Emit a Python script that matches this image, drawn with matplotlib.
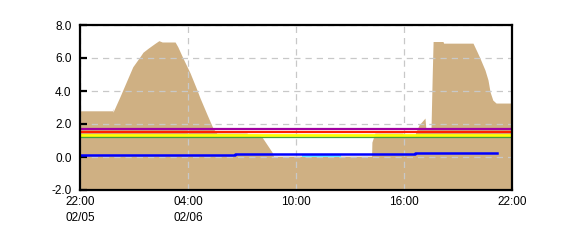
import matplotlib
matplotlib.use("Agg")
import matplotlib.pyplot as plt
import matplotlib.dates as mdates
import pandas as pd

# Tan area series (time, value)
area_times = ["02-05 22:00", "02-05 23:48", "02-05 23:49", "02-05 23:50", "02-06 00:13",
              "02-06 00:37", "02-06 00:56", "02-06 01:20", "02-06 01:30", "02-06 01:47",
              "02-06 02:10", "02-06 02:23", "02-06 02:34", "02-06 03:17", "02-06 03:26",
              "02-06 03:43", "02-06 04:07", "02-06 04:30", "02-06 04:40", "02-06 05:04",
              "02-06 05:23", "02-06 05:36", "02-06 07:17", "02-06 07:18", "02-06 07:53",
              "02-06 08:07", "02-06 08:40", "02-06 08:45", "02-06 14:12", "02-06 14:13",
              "02-06 14:23", "02-06 15:56", "02-06 15:57", "02-06 16:37", "02-06 16:39",
              "02-06 16:50", "02-06 17:10", "02-06 17:13", "02-06 17:30", "02-06 17:34",
              "02-06 17:37", "02-06 18:10", "02-06 18:12", "02-06 19:50", "02-06 20:04",
              "02-06 20:13", "02-06 20:30", "02-06 20:40", "02-06 20:47", "02-06 20:56",
              "02-06 21:07", "02-06 22:00"]
area_values = [2.8, 2.8, 2.95, 2.72, 3.65,
               4.67, 5.47, 6.08, 6.35, 6.59,
               6.89, 7.05, 6.97, 6.97, 6.68,
               6.0, 5.09, 4.06, 3.58, 2.55,
               1.76, 1.45, 1.45, 1.38, 1.38,
               1.2, 0.3, 0.05, 0.05, 0.9,
               1.45, 1.45, 1.35, 1.35, 1.5,
               1.94, 2.36, 1.7, 1.7, 4.9,
               7.0, 7.0, 6.9, 6.9, 6.36,
               6.0, 5.27, 4.67, 3.94, 3.45,
               3.27, 3.27]

# Blue step series
blue_times = ["02-05 22:00", "02-06 06:37", "02-06 16:37", "02-06 21:10"]
blue_values = [0.12, 0.16, 0.24, 0.24]

# Light cyan segment
cyan_times = ["02-06 10:23", "02-06 12:27"]
cyan_values = [0.07, 0.07]

# Threshold lines
level_values = [1.72, 1.53, 1.33, 1.23]
level_colors = ["#A000A0", "#FF2000", "#FFFF00", "#40A040"]
level_widths = [1.6, 1.6, 2.0, 0.9]

y_ticks = [-2.0, 0.0, 2.0, 4.0, 6.0, 8.0]
x_tick_times = ["02-05 22:00", "02-06 04:00", "02-06 10:00", "02-06 16:00", "02-06 22:00"]
x_tick_labels = ["22:00\n02/05", "04:00\n02/06", "10:00", "16:00", "22:00"]

def to_dt(lst):
    return pd.to_datetime(["2024-" + s for s in lst], format="%Y-%m-%d %H:%M")

plt.rcParams['font.family'] = ['Liberation Sans', 'DejaVu Sans']

fig = plt.figure(figsize=(5.7, 2.5), dpi=100)
ax = fig.add_axes([80/570, 60/250, 432/570, 165/250])

at = to_dt(area_times)
ax.fill_between(at, -2.0, area_values, color="#CFB083", linewidth=0, zorder=1)

for v, c, w in zip(level_values, level_colors, level_widths):
    ax.axhline(v, color=c, linewidth=w, zorder=3)

ax.step(to_dt(blue_times), blue_values, where="post", color="#0000FF", linewidth=1.8, zorder=4)
ax.plot(to_dt(cyan_times), cyan_values, color="#66E8FF", linewidth=1.5, zorder=3)

xt = to_dt(x_tick_times)
ax.set_xlim(xt[0], xt[-1])
ax.set_ylim(-2.0, 8.0)
ax.set_yticks(y_ticks)
ax.set_yticklabels([f"{v:.1f}" for v in y_ticks])
ax.set_xticks(xt)
ax.set_xticklabels(x_tick_labels, ha="center", multialignment="left", linespacing=1.5)

ax.grid(True, color="#C8C8C8", linestyle=(0, (5, 4)), linewidth=0.9, zorder=2)
ax.set_axisbelow(False)
for gl in ax.get_xgridlines() + ax.get_ygridlines():
    gl.set_zorder(2)

for s in ax.spines.values():
    s.set_linewidth(1.6)
    s.set_color("black")
    s.set_zorder(5)

ax.tick_params(axis="y", direction="in", length=5, width=1.6, color="black",
               labelsize=8.5, pad=6)
ax.tick_params(axis="x", direction="in", length=3, width=0.8, color="#C8C8C8",
               labelsize=8.5, pad=4)

fig.savefig("out.png", dpi=100)
